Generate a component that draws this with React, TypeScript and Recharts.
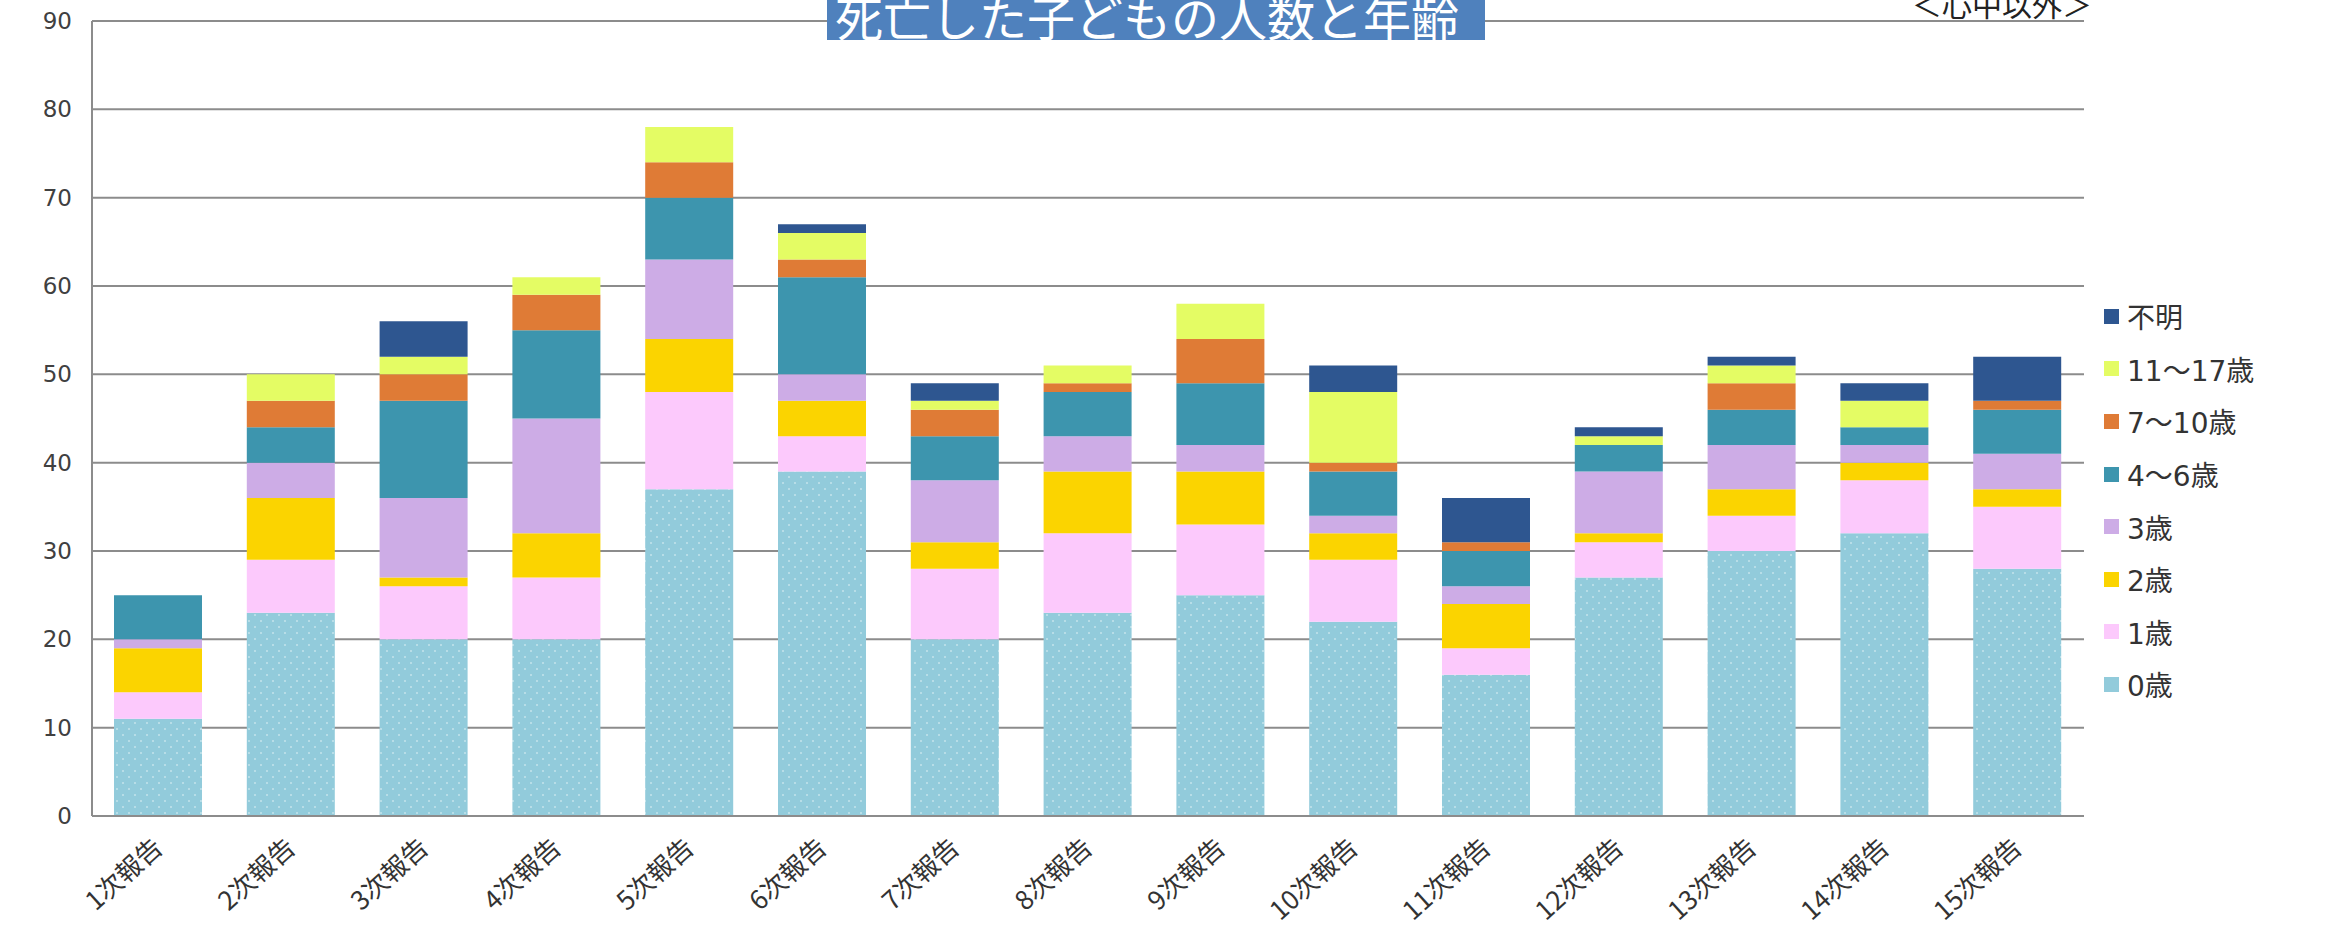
import { Bar, BarChart, CartesianGrid, XAxis, YAxis } from "recharts";

const reports = [
  "1次報告", "2次報告", "3次報告", "4次報告", "5次報告", "6次報告", "7次報告", "8次報告",
  "9次報告", "10次報告", "11次報告", "12次報告", "13次報告", "14次報告", "15次報告",
];

const age0 = [11, 23, 20, 20, 37, 39, 20, 23, 25, 22, 16, 27, 30, 32, 28];
const age1 = [3, 6, 6, 7, 11, 4, 8, 9, 8, 7, 3, 4, 4, 6, 7];
const age2 = [5, 7, 1, 5, 6, 4, 3, 7, 6, 3, 5, 1, 3, 2, 2];
const age3 = [1, 4, 9, 13, 9, 3, 7, 4, 3, 2, 2, 7, 5, 2, 4];
const age4to6 = [5, 4, 11, 10, 7, 11, 5, 5, 7, 5, 4, 3, 4, 2, 5];
const age7to10 = [0, 3, 3, 4, 4, 2, 3, 1, 5, 1, 1, 0, 3, 0, 1];
const age11to17 = [0, 3, 2, 2, 4, 3, 1, 2, 4, 8, 0, 1, 2, 3, 0];
const unknown = [0, 0, 4, 0, 0, 1, 2, 0, 0, 3, 5, 1, 1, 2, 5];

const yTicks = [0, 10, 20, 30, 40, 50, 60, 70, 80, 90];

// bottom to top stacking order
const series = [
  { key: "a0", name: "0歳", values: age0, color: "#92cbdb", fill: "url(#dots)" },
  { key: "a1", name: "1歳", values: age1, color: "#fcc9fc" },
  { key: "a2", name: "2歳", values: age2, color: "#fbd400" },
  { key: "a3", name: "3歳", values: age3, color: "#cdace6" },
  { key: "a4", name: "4～6歳", values: age4to6, color: "#3d95ae" },
  { key: "a7", name: "7～10歳", values: age7to10, color: "#df7b36" },
  { key: "a11", name: "11～17歳", values: age11to17, color: "#e4fc64" },
  { key: "un", name: "不明", values: unknown, color: "#2e5690" },
];

const data = reports.map((r, i) => {
  const row: Record<string, string | number> = { report: r };
  series.forEach((s) => (row[s.key] = s.values[i]));
  return row;
});

const FONT = '"DejaVu Sans", "Noto Sans CJK JP", sans-serif';
const CJK = '"Noto Sans CJK JP", sans-serif';
const GRID = "#8c8c8c";

const AngledTick = ({ x, y, payload }: any) => (
  <g transform={`translate(${x + 6},${y + 26})`}>
    <text
      textAnchor="end"
      transform="rotate(-42)"
      fontSize={26}
      fill="#333"
      fontFamily={CJK}
    >
      {payload.value}
    </text>
  </g>
);

export default function App() {
  return (
    <div style={{ position: "absolute", left: 0, top: 0, width: 2328, height: 939, background: "#fff", overflow: "hidden" }}>
      <BarChart
        width={2328}
        height={939}
        data={data}
        margin={{ top: 21, right: 244, bottom: 0, left: 0 }}
        barSize={88}
      >
        <defs>
          <pattern id="dots" width="12" height="12" patternUnits="userSpaceOnUse">
            <rect width="12" height="12" fill="#92cbdb" />
            <circle cx="3" cy="3" r="1" fill="#ffffff" opacity="0.45" />
            <circle cx="9" cy="9" r="1" fill="#ffffff" opacity="0.45" />
          </pattern>
        </defs>
        <CartesianGrid vertical={false} stroke={GRID} strokeWidth={2} />
        <XAxis
          dataKey="report"
          height={123}
          tickLine={false}
          axisLine={{ stroke: GRID, strokeWidth: 2 }}
          tick={<AngledTick />}
          interval={0}
        />
        <YAxis
          width={92}
          domain={[0, 90]}
          ticks={yTicks}
          tickLine={false}
          axisLine={{ stroke: GRID, strokeWidth: 2 }}
          tick={{ fontSize: 23, fill: "#404040", fontFamily: FONT, dx: -12 }}
        />
        {series.map((s) => (
          <Bar
            key={s.key}
            dataKey={s.key}
            name={s.name}
            stackId="total"
            fill={s.fill ?? s.color}
            isAnimationActive={false}
          />
        ))}
      </BarChart>

      <div
        style={{
          position: "absolute",
          left: 827,
          top: 0,
          width: 658,
          height: 40,
          background: "#4f81bd",
          overflow: "hidden",
        }}
      >
        <div
          style={{
            position: "absolute",
            left: 8,
            top: -9,
            fontSize: 48,
            lineHeight: 1,
            color: "#fff",
            fontFamily: CJK,
            whiteSpace: "nowrap",
          }}
        >
          死亡した子どもの人数と年齢
        </div>
      </div>

      <div
        style={{
          position: "absolute",
          left: 1912,
          top: -12,
          fontSize: 30,
          lineHeight: 1,
          color: "#222",
          fontFamily: CJK,
          whiteSpace: "nowrap",
        }}
      >
        ＜心中以外＞
      </div>

      <div style={{ position: "absolute", left: 2104, top: 290, fontFamily: FONT }}>
        {[...series].reverse().map((s) => (
          <div key={s.key} style={{ display: "flex", alignItems: "center", height: 52.6 }}>
            <span style={{ width: 15, height: 15, background: s.color, marginRight: 8 }} />
            <span style={{ fontSize: 28, color: "#333" }}>{s.name}</span>
          </div>
        ))}
      </div>
    </div>
  );
}
